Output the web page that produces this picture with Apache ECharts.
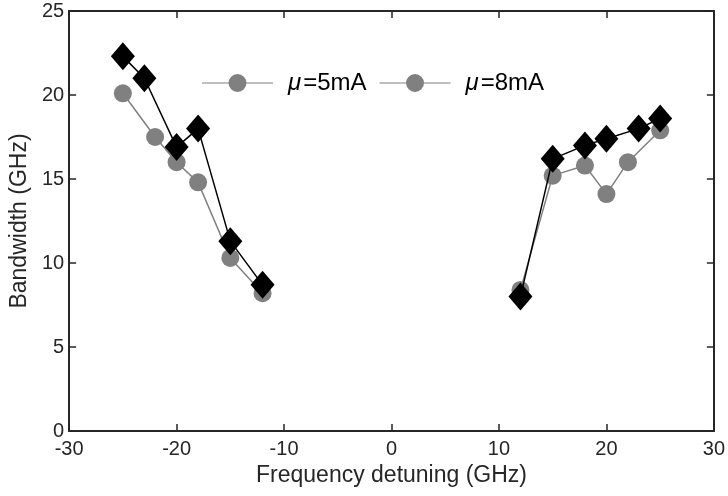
<!DOCTYPE html>
<html>
<head>
<meta charset="utf-8">
<script src="https://cdn.jsdelivr.net/npm/echarts@6/dist/echarts.min.js"></script>
<style>
  html, body { margin: 0; padding: 0; background: #fff; }
  #chart { width: 728px; height: 496px; }
</style>
</head>
<body>
<div id="chart"></div>
<script>
// detuning (GHz) and bandwidth (GHz), left and right branches
var xLeft5 = [-25, -22, -20, -18, -15, -12];
var yLeft5 = [20.1, 17.5, 16.0, 14.8, 10.3, 8.2];
var xRight5 = [12, 15, 18, 20, 22, 25];
var yRight5 = [8.4, 15.2, 15.8, 14.1, 16.0, 17.9];

var xLeft8 = [-25, -23, -20, -18, -15, -12];
var yLeft8 = [22.3, 21.0, 16.9, 18.0, 11.3, 8.7];
var xRight8 = [12, 15, 18, 20, 23, 25];
var yRight8 = [8.0, 16.2, 17.0, 17.4, 18.0, 18.6];

function pairs(xs, ys) {
    return xs.map(function (x, i) { return [x, ys[i]]; });
}

var axisColor = '#262626';
var font = '"Liberation Sans", Arial, sans-serif';
// legend icon: thin line with a circle in the middle
var legendIcon = 'path://M0,9.4H71V10.6H0Z M44.5,10A9,9,0,1,1,26.5,10A9,9,0,1,1,44.5,10Z';

function s5(data) {
    return {
        name: '5mA', type: 'line', data: data,
        symbol: 'circle', symbolSize: 18,
        itemStyle: { color: '#808080' },
        lineStyle: { color: '#808080', width: 1.5 },
        z: 2, animation: false
    };
}
function s8(data) {
    return {
        name: '8mA', type: 'line', data: data,
        symbol: 'diamond', symbolSize: [24, 28],
        itemStyle: { color: '#000' },
        lineStyle: { color: '#000', width: 1.5 },
        z: 3, animation: false
    };
}

function frame(extra) {
    var a = {
        type: 'value',
        axisLine: { show: true, onZero: false, lineStyle: { color: axisColor, width: 2 } },
        axisTick: { show: true, inside: true, length: 7, lineStyle: { color: axisColor, width: 1.5 } },
        axisLabel: { show: false },
        splitLine: { show: false }
    };
    for (var k in extra) a[k] = extra[k];
    return a;
}

var chart = echarts.init(document.getElementById('chart'));
chart.setOption({
    backgroundColor: '#fff',
    textStyle: { fontFamily: font },
    grid: { left: 67, right: 11, top: 11, bottom: 65 },
    legend: {
        left: 197, top: 66,
        itemWidth: 71, itemHeight: 20, itemGap: 13,
        icon: legendIcon,
        data: [
            { name: '5mA', itemStyle: { color: '#808080' } },
            { name: '8mA', itemStyle: { color: '#808080' } }
        ],
        formatter: function (n) { return '{i|μ}=' + n; },
        textStyle: {
            fontSize: 24, color: '#000', padding: [0, 0, 0, 10],
            rich: { i: { fontStyle: 'italic', fontSize: 24, fontFamily: font, padding: [0, 2, 0, 0] } }
        }
    },
    xAxis: [frame({
        min: -30, max: 30, interval: 10,
        name: 'Frequency detuning (GHz)', nameLocation: 'middle', nameGap: 30,
        nameTextStyle: { fontSize: 23, color: '#262626' },
        axisLabel: { show: true, fontSize: 20, color: '#262626', margin: 8 }
    }), frame({
        position: 'top', min: -30, max: 30, interval: 10
    })],
    yAxis: [frame({
        min: 0, max: 25, interval: 5,
        name: 'Bandwidth (GHz)', nameLocation: 'middle', nameGap: 35,
        nameTextStyle: { fontSize: 23, color: '#262626' },
        axisLabel: { show: true, fontSize: 20, color: '#262626', margin: 5 }
    }), frame({
        position: 'right', min: 0, max: 25, interval: 5
    })],
    series: [
        s5(pairs(xLeft5, yLeft5)),
        s5(pairs(xRight5, yRight5)),
        s8(pairs(xLeft8, yLeft8)),
        s8(pairs(xRight8, yRight8))
    ]
});
</script>
</body>
</html>
